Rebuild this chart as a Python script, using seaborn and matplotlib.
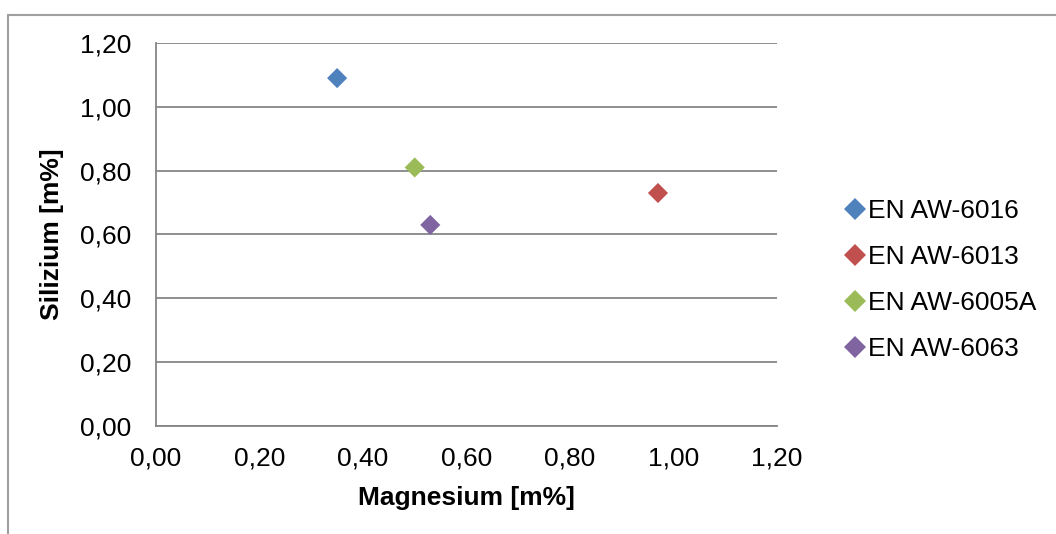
import matplotlib
matplotlib.use("Agg")
import matplotlib.pyplot as plt
import seaborn as sns
import pandas as pd
from matplotlib.lines import Line2D
from matplotlib.ticker import FuncFormatter, MultipleLocator

alloys = ["EN AW-6016", "EN AW-6013", "EN AW-6005A", "EN AW-6063"]
magnesium = [0.35, 0.97, 0.50, 0.53]
silizium = [1.09, 0.73, 0.81, 0.63]
colors = ["#4F81BD", "#C0504D", "#9BBB59", "#8064A2"]

df = pd.DataFrame({"Legierung": alloys, "Mg": magnesium, "Si": silizium})

sns.set_theme(style="white")
plt.rcParams["font.family"] = ["Liberation Sans", "DejaVu Sans"]
plt.rcParams["text.color"] = "black"

FS = 19
W, H = 1056, 534
fig = plt.figure(figsize=(W / 100, H / 100), dpi=100)
ax = fig.add_axes([156 / W, 1 - 426 / H, (777 - 156) / W, (426 - 43) / H])

sns.scatterplot(data=df, x="Mg", y="Si", hue="Legierung", hue_order=alloys,
                palette=colors, marker="D", s=105, linewidth=0, ax=ax,
                legend=True, zorder=3)

ax.set_xlim(0, 1.2)
ax.set_ylim(0, 1.2)
ax.xaxis.set_major_locator(MultipleLocator(0.2))
ax.yaxis.set_major_locator(MultipleLocator(0.2))
fmt = FuncFormatter(lambda v, p: f"{v:.2f}".replace(".", ","))
ax.xaxis.set_major_formatter(fmt)
ax.yaxis.set_major_formatter(fmt)
ax.tick_params(axis="both", labelsize=FS, colors="black", length=0)
ax.tick_params(axis="x", pad=15)
ax.tick_params(axis="y", pad=18)
ax.grid(axis="y", color="#868686", linewidth=1.3)
ax.grid(axis="x", visible=False)
for side in ["top", "right"]:
    ax.spines[side].set_visible(False)
for side in ["left", "bottom"]:
    ax.spines[side].set_color("#868686")
    ax.spines[side].set_linewidth(1.3)

ax.set_xlabel("Magnesium [m%]", fontsize=FS, fontweight="bold", color="black")
ax.set_ylabel("Silizium [m%]", fontsize=FS, fontweight="bold", color="black")
ax.xaxis.set_label_coords(0.5, (426 - 486) / 383)
ax.yaxis.set_label_coords((64 - 156) / 621, 0.5)

handles, labels = ax.get_legend_handles_labels()
ax.legend_.remove()
leg = fig.legend(handles, labels, loc="center left",
                 bbox_to_anchor=(842 / W, 1 - 280 / H), frameon=False,
                 fontsize=FS, markerscale=1.05, handletextpad=0.0,
                 labelspacing=0.84, handlelength=1.0, borderpad=0,
                 borderaxespad=0)

# chart frame
fig.add_artist(Line2D([8 / W, 1.0], [1 - 15 / H, 1 - 15 / H], transform=fig.transFigure,
                      color="#A0A0A0", linewidth=1.5))
fig.add_artist(Line2D([8 / W, 8 / W], [1 - 15 / H, 0.0], transform=fig.transFigure,
                      color="#A0A0A0", linewidth=1.5))

fig.savefig("out.png", dpi=100, facecolor="white")
